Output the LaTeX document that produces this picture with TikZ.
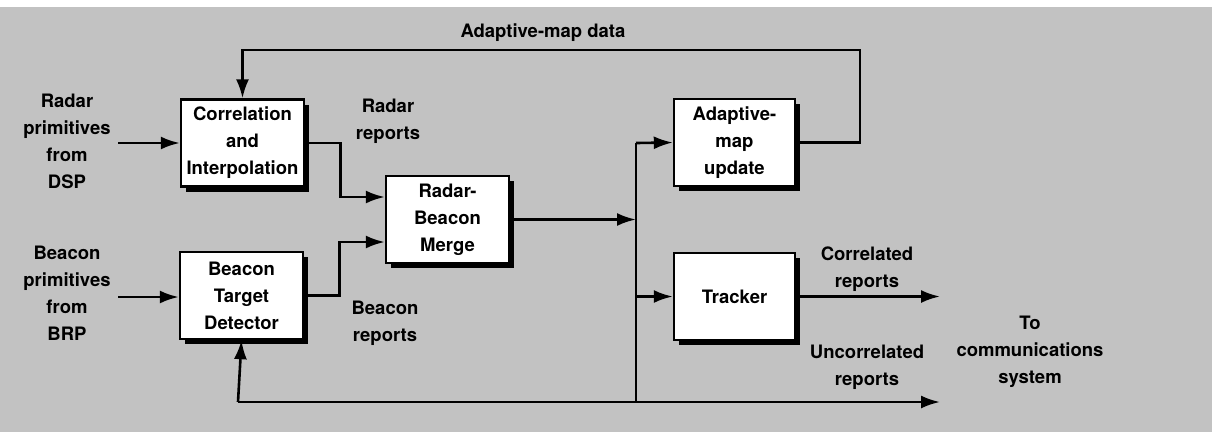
\documentclass[tikz,border=0pt]{standalone}
\usepackage{fontspec}
\setmainfont{TeX Gyre Heros}
\usetikzlibrary{arrows.meta,shadows}

\tikzset{
 blk/.style={draw,line width=2.4pt,fill=white,align=center,minimum width=123pt,minimum height=87pt,
  drop shadow={shadow xshift=5pt,shadow yshift=-5pt,fill=black,opacity=1}},
 lbl/.style={align=center},
 arr/.style={line width=2.6pt,-{Latex[length=19pt,width=13pt]}},
 ln/.style={line width=2.6pt}
}

\begin{document}
\begin{tikzpicture}[x=1pt,y=-1pt,font=\fontsize{18.5}{27}\selectfont\bfseries]
 \useasboundingbox (0,0) rectangle (1212,432);
 \fill[black!24] (0,7) rectangle (1212,432); %背景
 % ブロック
 \node[blk] (corr) at (242.5,143) {Correlation\\and\\Interpolation};
 \node[blk] (merge) at (447.5,219.5) {Radar-\\Beacon\\Merge};
 \node[blk] (btd) at (241.5,295.5) {Beacon\\Target\\Detector};
 \node[blk,minimum width=121pt] (amu) at (734.5,142.5) {Adaptive-\\map\\update};
 \node[blk,minimum width=121pt] (trk) at (734.5,296.5) {Tracker};
 % ラベル
 \node[lbl] (rprim) at (67,141) {Radar\\primitives\\from\\DSP};
 \node[lbl] (bprim) at (67,293) {Beacon\\primitives\\from\\BRP};
 \node[lbl] (rrep) at (388,121) {Radar\\reports};
 \node[lbl] (brep) at (385,323) {Beacon\\reports};
 \node[lbl] (amdata) at (543,33) {Adaptive-map data};
 \node[lbl] (crep) at (867,269) {Correlated\\reports};
 \node[lbl] (urep) at (867,367) {Uncorrelated\\reports};
 \node[lbl] (comm) at (1030,352) {To\\communications\\system};
 % 端点
 \coordinate (rin) at (118,143);
 \coordinate (bin) at (118,297);
 \coordinate (bustop) at (636,143);
 \coordinate (busbot) at (636,402);
 \coordinate (botl) at (238,402);
 \coordinate (outu) at (940,402);
 \coordinate (outc) at (940,296.5);
 \coordinate (fbr) at (860,50);
 % 接続
 \draw[arr] (rin) -- (corr.west);
 \draw[arr] (bin) -- (bin -| btd.west);
 \draw[arr] (corr.east) -- ++(35,0) |- ([yshift=22.5pt]merge.west);
 \draw[arr] (btd.east) -- ++(35,0) |- ([yshift=-22.5pt]merge.west);
 \draw[arr] (merge.east) -- (merge.east -| bustop);
 \draw[ln] (bustop) -- (busbot);
 \draw[arr] (bustop) -- (amu.west);
 \draw[arr] (bustop |- trk.west) -- (trk.west);
 \draw[arr] (botl) -- (outu);
 \draw[arr] (botl) -- (btd.south);
 \draw[arr] (trk.east) -- (outc);
 \draw[arr] (amu.east) -| (fbr) -| (corr.north); %フィードバック
\end{tikzpicture}
\end{document}
